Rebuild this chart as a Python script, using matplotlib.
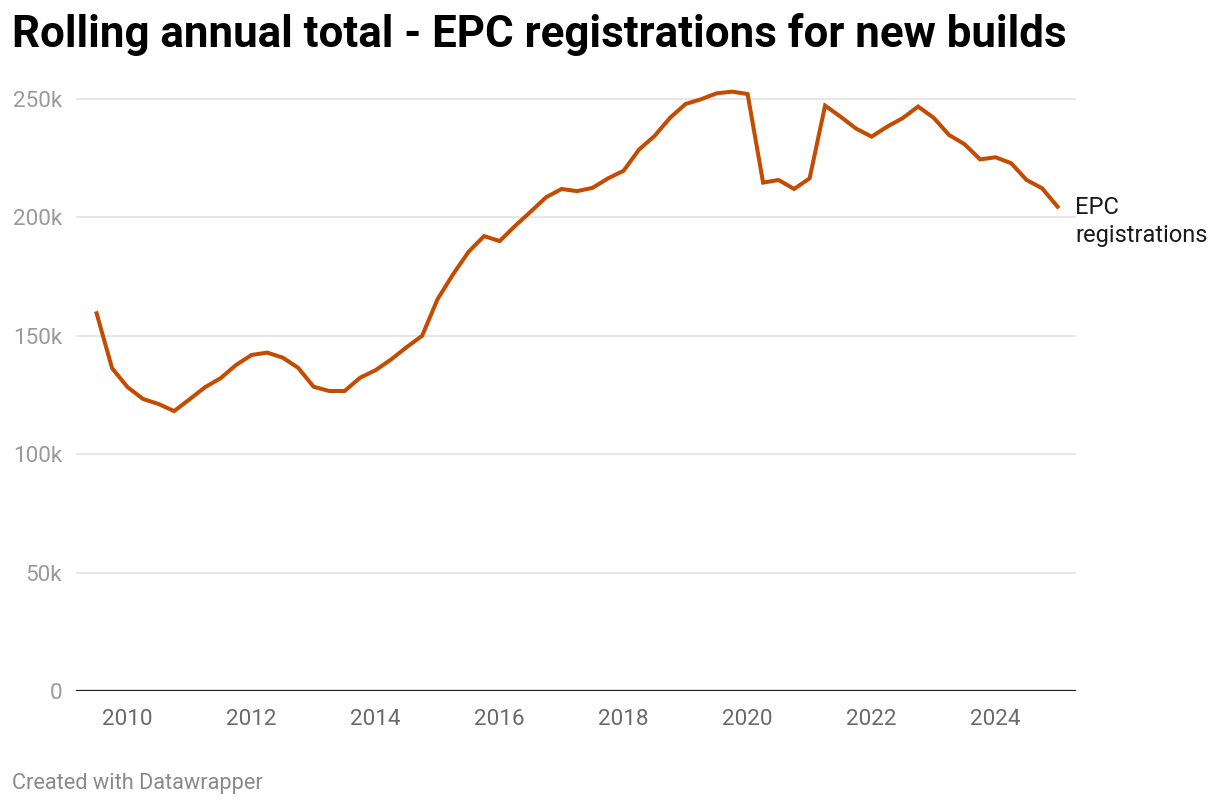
import matplotlib.pyplot as plt
import numpy as np

plt.rcParams['font.family'] = ['Roboto', 'DejaVu Sans']

# quarterly rolling annual totals (thousands), starting mid-2009
start_year = 2009.5
epc_k = [159.5, 136.3, 128.3, 123.3, 121.2, 118.2, 123.2, 128.3, 132.1, 137.7,
         141.9, 142.9, 140.8, 136.5, 128.5, 126.7, 126.7, 132.3, 135.5, 140.0,
         145.2, 150.0, 165.5, 176.0, 185.5, 192.1, 190.0, 196.4, 202.4, 208.5,
         212.0, 211.1, 212.5, 216.5, 219.7, 228.7, 234.4, 242.1, 247.9, 249.9,
         252.4, 253.1, 252.1, 214.7, 215.8, 212.0, 216.5, 247.2, 242.5, 237.5,
         234.1, 238.3, 241.9, 246.8, 242.1, 234.8, 230.9, 224.5, 225.4, 222.9,
         215.8, 212.3, 204.5]
years = start_year + 0.25 * np.arange(len(epc_k))

y_ticks = [0, 50, 100, 150, 200, 250]
y_labels = ['0', '50k', '100k', '150k', '200k', '250k']
x_ticks = [2010, 2012, 2014, 2016, 2018, 2020, 2022, 2024]

W, H = 1220, 808
fig = plt.figure(figsize=(W / 100, H / 100), dpi=100)

# axes box in pixels: left 76, right 1076, y=0 at 691, 250k at 99
left, right = 76, 1076
y0_px, y250_px = 691, 99
px_per_k = (y0_px - y250_px) / 250
ymax = 262
top_px = y0_px - ymax * px_per_k
ax = fig.add_axes([left / W, 1 - y0_px / H, (right - left) / W, (y0_px - top_px) / H])

px_per_year = 62.0
x_left = 2010 - (127.6 - left) / px_per_year
x_right = 2010 + (right - 127.6) / px_per_year
ax.set_xlim(x_left, x_right)
ax.set_ylim(0, ymax)

ax.plot(years, epc_k, color='#c44b00', lw=2.9, solid_joinstyle='miter', zorder=3)

for v in y_ticks[1:]:
    ax.axhline(v, color='#e3e3e3', lw=1.2, zorder=1)
ax.axhline(0, color='#1a1a1a', lw=1.6, zorder=2)

for s in ax.spines.values():
    s.set_visible(False)

ax.set_yticks(y_ticks)
ax.set_yticklabels(y_labels)
ax.set_xticks(x_ticks)
ax.tick_params(axis='y', length=0, pad=10, labelsize=16.2, labelcolor='#9a9a9a')
ax.tick_params(axis='x', length=0, pad=13, labelsize=16.2, labelcolor='#6a6a6a')

# direct line label
lx = years[-1] + 0.28
ax.text(lx, epc_k[-1] - 3.0, 'EPC', fontsize=17, color='#1a1a1a',
        ha='left', va='baseline', clip_on=False)
ax.text(lx, epc_k[-1] - 15.0, 'registrations', fontsize=17, color='#1a1a1a',
        ha='left', va='baseline', clip_on=False)

fig.text(12 / W, 1 - 46.7 / H, 'Rolling annual total - EPC registrations for new builds',
         fontsize=31.6, fontweight='bold', color='#000000', ha='left', va='baseline')
fig.text(12 / W, 1 - 784 / H, 'Created with Datawrapper', fontsize=15.7,
         color='#8a8a8a', ha='left', va='center')

fig.savefig('out.png', dpi=100)
